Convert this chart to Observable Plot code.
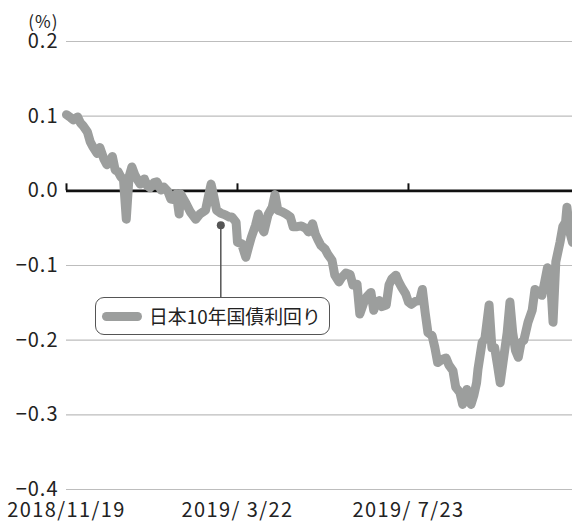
<!DOCTYPE html>
<html>
<head>
<meta charset="utf-8">
<script src="https://cdn.jsdelivr.net/npm/d3@7"></script>
<script src="https://cdn.jsdelivr.net/npm/@observablehq/plot@0.6"></script>
<style>
  body { margin: 0; background: #fff; }
  #wrap { position: relative; width: 572px; height: 521px; font-family: "Noto Sans CJK JP", "Noto Sans", sans-serif; }
  #legend {
    position: absolute; left: 95px; top: 297px; width: 235px; height: 38px;
    box-sizing: border-box; border: 1.6px solid #555; border-radius: 9px; background: #fff;
    display: flex; align-items: center; padding-left: 6px; white-space: nowrap; overflow: visible;
  }
  #legend .sw { display: inline-block; flex: none; width: 40px; height: 9px; border-radius: 4.5px; background: #9c9e9d; margin-right: 7px; }
  #legend .lb { font-size: 20px; color: #222; font-weight: 400; line-height: 1; }
  svg text { letter-spacing: 1px; }
  svg g[aria-label="x-axis tick label"] text { letter-spacing: 1.4px; }
</style>
</head>
<body>
<div id="wrap"></div>
<script>
// Series: Japan 10-year government bond yield (%)
const dates = [
  "2018-11-19","2018-11-22","2018-11-24","2018-11-27","2018-11-29","2018-12-01","2018-12-04","2018-12-06","2018-12-08","2018-12-11",
  "2018-12-13","2018-12-16","2018-12-18","2018-12-20","2018-12-22","2018-12-24","2018-12-26","2018-12-28","2018-12-30","2019-01-01",
  "2019-01-03","2019-01-05","2019-01-07","2019-01-09","2019-01-11","2019-01-14","2019-01-16","2019-01-18","2019-01-21","2019-01-23",
  "2019-01-26","2019-01-28","2019-01-31","2019-02-02","2019-02-05","2019-02-06","2019-02-08","2019-02-09","2019-02-13","2019-02-16",
  "2019-02-20","2019-02-23","2019-02-27","2019-03-01","2019-03-03","2019-03-05","2019-03-07","2019-03-10","2019-03-13","2019-03-16",
  "2019-03-18","2019-03-21","2019-03-22","2019-03-25","2019-03-28","2019-03-30","2019-04-01","2019-04-04","2019-04-06","2019-04-08",
  "2019-04-10","2019-04-13","2019-04-16","2019-04-18","2019-04-20","2019-04-23","2019-04-26","2019-04-29","2019-05-01","2019-05-04",
  "2019-05-07","2019-05-10","2019-05-12","2019-05-15","2019-05-17","2019-05-19","2019-05-21","2019-05-24","2019-05-26","2019-05-29",
  "2019-05-31","2019-06-03","2019-06-05","2019-06-08","2019-06-11","2019-06-13","2019-06-16","2019-06-18","2019-06-21","2019-06-23",
  "2019-06-26","2019-06-28","2019-06-30","2019-07-02","2019-07-04","2019-07-07","2019-07-09","2019-07-11","2019-07-14","2019-07-16",
  "2019-07-18","2019-07-21","2019-07-23","2019-07-25","2019-07-28","2019-07-31","2019-08-02","2019-08-04","2019-08-06","2019-08-09",
  "2019-08-11","2019-08-13","2019-08-16","2019-08-19","2019-08-21","2019-08-24","2019-08-26","2019-08-29","2019-08-31","2019-09-02",
  "2019-09-03","2019-09-06","2019-09-08","2019-09-10","2019-09-11","2019-09-14","2019-09-16","2019-09-19","2019-09-21","2019-09-23",
  "2019-09-25","2019-09-27","2019-09-29","2019-10-02","2019-10-04","2019-10-06","2019-10-08","2019-10-10","2019-10-12","2019-10-14",
  "2019-10-17","2019-10-20","2019-10-22","2019-10-25","2019-10-27","2019-10-29","2019-10-31","2019-11-02","2019-11-04","2019-11-06",
  "2019-11-09","2019-11-11","2019-11-13","2019-11-14","2019-11-16","2019-11-18"
];
const yields = [
  0.102, 0.098, 0.095, 0.099, 0.091, 0.087, 0.079, 0.066, 0.059, 0.050,
  0.058, 0.042, 0.035, 0.039, 0.046, 0.028, 0.026, 0.019, 0.015, -0.038,
  0.019, 0.032, 0.022, 0.015, 0.009, 0.016, 0.007, 0.004, 0.011, 0.012,
  0.001, 0.005, -0.001, -0.011, -0.012, -0.004, -0.031, -0.004, -0.017, -0.028,
  -0.038, -0.031, -0.026, -0.008, 0.009, -0.008, -0.026, -0.030, -0.032, -0.035,
  -0.035, -0.042, -0.069, -0.071, -0.089, -0.075, -0.062, -0.046, -0.031, -0.048,
  -0.055, -0.032, -0.022, -0.005, -0.026, -0.028, -0.031, -0.035, -0.048, -0.048,
  -0.047, -0.050, -0.055, -0.044, -0.058, -0.066, -0.073, -0.078, -0.085, -0.093,
  -0.113, -0.122, -0.116, -0.110, -0.112, -0.126, -0.125, -0.165, -0.149, -0.142,
  -0.136, -0.160, -0.149, -0.147, -0.155, -0.153, -0.126, -0.118, -0.113, -0.122,
  -0.129, -0.138, -0.149, -0.152, -0.148, -0.147, -0.132, -0.163, -0.190, -0.194,
  -0.210, -0.230, -0.226, -0.224, -0.233, -0.241, -0.263, -0.270, -0.286, -0.277,
  -0.266, -0.286, -0.274, -0.257, -0.239, -0.203, -0.198, -0.153, -0.210, -0.210,
  -0.233, -0.257, -0.230, -0.190, -0.149, -0.190, -0.214, -0.223, -0.203, -0.200,
  -0.176, -0.160, -0.132, -0.136, -0.140, -0.122, -0.103, -0.112, -0.176, -0.095,
  -0.069, -0.048, -0.042, -0.022, -0.055, -0.069
];
const seriesName = "日本10年国債利回り";

// Axes
const xDomain = ["2018-11-19", "2019-11-18"];
const xTicks = ["2018-11-19", "2019-03-22", "2019-07-23"];
const xTickLabels = ["2018/11/19", "2019/ 3/22", "2019/ 7/23"];
const yDomain = [-0.4, 0.2];
const yTicks = [-0.4, -0.3, -0.2, -0.1, 0, 0.1, 0.2];
const yUnit = "(%)";

// Annotation anchor (dot) and the level where the connector meets the legend box
const annoDate = "2019-03-10";
const annoValue = -0.046;
const annoEndValue = -0.143;

const parse = d3.utcParse("%Y-%m-%d");
const data = dates.map((d, i) => ({ date: parse(d), value: yields[i] }));
const tickDates = xTicks.map(parse);
const labelOf = new Map(tickDates.map((d, i) => [+d, xTickLabels[i]]));
const fmtY = d3.format(".1f");

const chart = Plot.plot({
  width: 572,
  height: 521,
  marginLeft: 66,
  marginRight: 0,
  marginTop: 41,
  marginBottom: 32,
  style: { fontFamily: '"Noto Sans CJK JP", "Noto Sans", sans-serif', fontSize: "21px", color: "#222", background: "#fff" },
  x: { type: "utc", domain: xDomain.map(parse) },
  y: { domain: yDomain },
  marks: [
    Plot.gridY(yTicks.filter(d => d !== 0), { stroke: "#bdbdbd", strokeOpacity: 1, strokeWidth: 1.2 }),
    Plot.axisY(yTicks, { tickSize: 0, tickPadding: 8, tickFormat: fmtY, fontSize: 20, label: null, fill: "#222" }),
    Plot.axisX(tickDates, { tickSize: 0, tickPadding: 13, tickFormat: d => labelOf.get(+d), fontSize: 20, label: null, fill: "#222" }),
    Plot.text([yUnit], { frameAnchor: "top-left", textAnchor: "end", dx: -8, dy: -26, fontSize: 17, fill: "#222" }),
    Plot.ruleY([0], { stroke: "#111", strokeWidth: 2.6 }),
    Plot.ruleX(tickDates, { y1: 0, y2: 0, insetTop: -7, stroke: "#111", strokeWidth: 2 }),
    Plot.ruleX([parse(annoDate)], { y1: annoValue, y2: annoEndValue, stroke: "#555", strokeWidth: 1.5 }),
    Plot.line(data, { x: "date", y: "value", stroke: "#9c9e9d", strokeWidth: 9, strokeLinejoin: "round", strokeLinecap: "round" }),
    Plot.dot([{ date: parse(annoDate), value: annoValue }], { x: "date", y: "value", r: 4, fill: "#555", stroke: "none" })
  ]
});

const wrap = document.getElementById("wrap");
wrap.appendChild(chart);
const legend = document.createElement("div");
legend.id = "legend";
legend.innerHTML = `<span class="sw"></span><span class="lb">${seriesName}</span>`;
wrap.appendChild(legend);
// fit the legend label to the width it takes in the reference box
const lb = legend.querySelector(".lb");
const w = lb.getBoundingClientRect().width;
if (w > 0) lb.style.fontSize = (20 * 172 / w).toFixed(2) + "px";
</script>
</body>
</html>
